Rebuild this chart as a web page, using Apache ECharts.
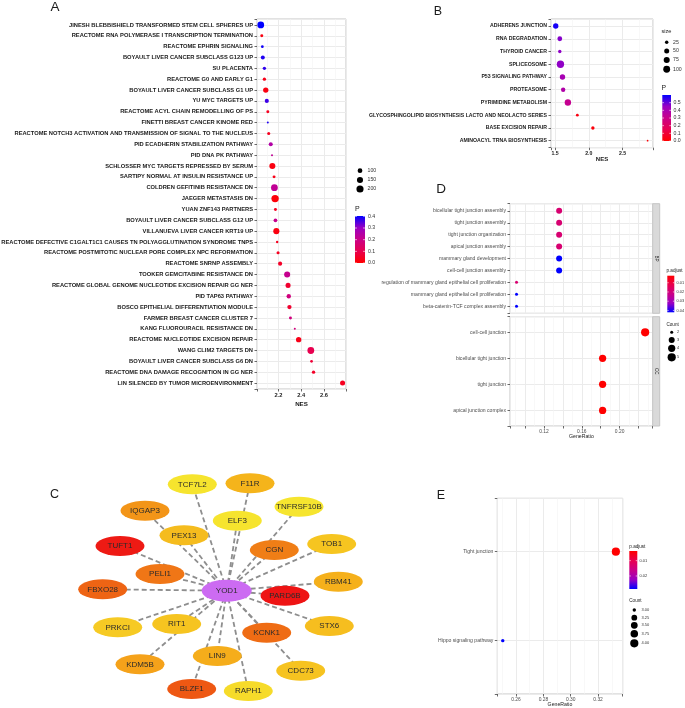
<!DOCTYPE html>
<html><head><meta charset="utf-8">
<script src="https://cdn.jsdelivr.net/npm/echarts@6/dist/echarts.min.js"></script>
<style>html,body{margin:0;padding:0;background:#fff}#c{width:685px;height:708px}</style>
</head><body><div id="c"></div>
<script>
// ---------------- Panel A data ----------------
const aTerms = [
'JINESH BLEBBISHIELD TRANSFORMED STEM CELL SPHERES UP',
'REACTOME RNA POLYMERASE I TRANSCRIPTION TERMINATION',
'REACTOME EPHRIN SIGNALING',
'BOYAULT LIVER CANCER SUBCLASS G123 UP',
'SU PLACENTA',
'REACTOME G0 AND EARLY G1',
'BOYAULT LIVER CANCER SUBCLASS G1 UP',
'YU MYC TARGETS UP',
'REACTOME ACYL CHAIN REMODELLING OF PS',
'FINETTI BREAST CANCER KINOME RED',
'REACTOME NOTCH3 ACTIVATION AND TRANSMISSION OF SIGNAL TO THE NUCLEUS',
'PID ECADHERIN STABILIZATION PATHWAY',
'PID DNA PK PATHWAY',
'SCHLOSSER MYC TARGETS REPRESSED BY SERUM',
'SARTIPY NORMAL AT INSULIN RESISTANCE UP',
'COLDREN GEFITINIB RESISTANCE DN',
'JAEGER METASTASIS DN',
'YUAN ZNF143 PARTNERS',
'BOYAULT LIVER CANCER SUBCLASS G12 UP',
'VILLANUEVA LIVER CANCER KRT19 UP',
'REACTOME DEFECTIVE C1GALT1C1 CAUSES TN POLYAGGLUTINATION SYNDROME TNPS',
'REACTOME POSTMITOTIC NUCLEAR PORE COMPLEX NPC REFORMATION',
'REACTOME SNRNP ASSEMBLY',
'TOOKER GEMCITABINE RESISTANCE DN',
'REACTOME GLOBAL GENOME NUCLEOTIDE EXCISION REPAIR GG NER',
'PID TAP63 PATHWAY',
'BOSCO EPITHELIAL DIFFERENTIATION MODULE',
'FARMER BREAST CANCER CLUSTER 7',
'KANG FLUOROURACIL RESISTANCE DN',
'REACTOME NUCLEOTIDE EXCISION REPAIR',
'WANG CLIM2 TARGETS DN',
'BOYAULT LIVER CANCER SUBCLASS G6 DN',
'REACTOME DNA DAMAGE RECOGNITION IN GG NER',
'LIN SILENCED BY TUMOR MICROENVIRONMENT'];
const aNES  = [2.045,2.054,2.059,2.063,2.077,2.077,2.089,2.098,2.107,2.107,2.115,2.133,2.144,2.147,2.162,2.165,2.171,2.174,2.174,2.182,2.189,2.197,2.215,2.277,2.285,2.291,2.297,2.306,2.344,2.378,2.485,2.491,2.509,2.764];
const aSize = [180,65,63,82,69,69,119,84,65,60,66,82,60,147,65,182,212,65,76,150,61,66,84,147,109,90,88,65,60,120,182,63,70,110];
const aP    = [0.40,0.02,0.39,0.38,0.37,0.03,0.02,0.36,0.04,0.38,0.04,0.25,0.22,0.02,0.03,0.22,0.01,0.04,0.21,0.02,0.04,0.04,0.05,0.21,0.06,0.18,0.06,0.18,0.18,0.03,0.10,0.07,0.05,0.04];
const aSizeBreaks = [100,150,200];
const aPBreaks = [0.0,0.1,0.2,0.3,0.4];

// ---------------- Panel B data ----------------
const bTerms = ['ADHERENS JUNCTION','RNA DEGRADATION','THYROID CANCER','SPLICEOSOME','P53 SIGNALING PATHWAY','PROTEASOME','PYRIMIDINE METABOLISM','GLYCOSPHINGOLIPID BIOSYNTHESIS LACTO AND NEOLACTO SERIES','BASE EXCISION REPAIR','AMINOACYL TRNA BIOSYNTHESIS'];
const bNES  = [1.51,1.57,1.57,1.58,1.61,1.62,1.69,1.83,2.06,2.87];
const bSize = [58,45,24,116,58,38,84,19,24,15];
const bP    = [0.58,0.47,0.46,0.46,0.41,0.38,0.32,0.03,0.02,0.01];
const bSizeBreaks = [25,50,75,100];
const bPBreaks = [0.0,0.1,0.2,0.3,0.4,0.5];

// ---------------- Panel D data ----------------
const dBPTerms = ['bicellular tight junction assembly','tight junction assembly','tight junction organization','apical junction assembly','mammary gland development','cell-cell junction assembly','regulation of mammary gland epithelial cell proliferation','mammary gland epithelial cell proliferation','beta-catenin-TCF complex assembly'];
const dBPRatio = [0.136,0.136,0.136,0.136,0.136,0.136,0.0909,0.0909,0.0909];
const dBPCount = [3,3,3,3,3,3,2,2,2];
const dBPPadj  = [0.018,0.018,0.018,0.018,0.042,0.042,0.018,0.042,0.042];
const dCCTerms = ['cell-cell junction','bicellular tight junction','tight junction','apical junction complex'];
const dCCRatio = [0.227,0.182,0.182,0.182];
const dCCCount = [5,4,4,4];
const dCCPadj  = [0.0024,0.0024,0.0024,0.0024];
const dCountBreaks = [2,3,4,5];
const dPadjBreaks = [0.01,0.02,0.03,0.04];

// ---------------- Panel E data ----------------
const eTerms = ['Tight junction','Hippo signaling pathway'];
const eRatio = [0.333,0.2503];
const eCount = [4,3];
const ePadj  = [0.0037,0.0285];
const eCountBreaks = [3.00,3.25,3.50,3.75,4.00];
const ePadjBreaks = [0.01,0.02];

// ---------------- Panel C network ----------------
const hubGene = 'YOD1';
const genes = ['TCF7L2','F11R','IQGAP3','ELF3','TNFRSF10B','PEX13','TUFT1','CGN','TOB1','PELI1','FBXO28','RBM41','PARD6B','PRKCI','RIT1','STX6','KCNK1','LIN9','KDM5B','CDC73','BLZF1','RAPH1'];
// node layout (network drawing coordinates)
const layoutX = {YOD1:226.7,TCF7L2:192.3,F11R:250,IQGAP3:145,ELF3:237.3,TNFRSF10B:299,PEX13:184,TUFT1:120,CGN:274.3,TOB1:331.7,PELI1:160,FBXO28:102.7,RBM41:338.3,PARD6B:285,PRKCI:117.7,RIT1:176.7,STX6:329.3,KCNK1:266.7,LIN9:217.3,KDM5B:140,CDC73:300.7,BLZF1:191.7,RAPH1:248.3};
const layoutY = {YOD1:120.7,TCF7L2:14.3,F11R:13.3,IQGAP3:40.7,ELF3:50.7,TNFRSF10B:36.7,PEX13:65.3,TUFT1:76,CGN:80,TOB1:74,PELI1:104,FBXO28:119.3,RBM41:111.7,PARD6B:125.7,PRKCI:157.3,RIT1:154,STX6:156,KCNK1:162.7,LIN9:186,KDM5B:194.3,CDC73:200.7,BLZF1:219,RAPH1:221};
// node fill styles
const nodeColors = {YOD1:'#CC6BF2',TCF7L2:'#F6E42E',F11R:'#F5B41B',IQGAP3:'#F39518',ELF3:'#F6E42E',TNFRSF10B:'#F6E52F',PEX13:'#F5BC1E',TUFT1:'#EE1A14',CGN:'#F07E16',TOB1:'#F6C520',PELI1:'#F07616',FBXO28:'#EE6414',RBM41:'#F5B01B',PARD6B:'#EE1414',PRKCI:'#F6CA24',RIT1:'#F6C420',STX6:'#F6BE1F',KCNK1:'#EF6C14',LIN9:'#F5AD1B',KDM5B:'#F5A21A',CDC73:'#F6C320',BLZF1:'#EE5813',RAPH1:'#F6DB2A'};

// ---------------- styles ----------------
const FONT = '"Liberation Sans", Arial, Helvetica, sans-serif';
const PAL = ['#FF0000','#E8004F','#CA0088','#9A00C2','#0000FF']; // low -> high
const GRIDC = '#EBEBEB', MINORC = '#F4F4F4', BORDER = '#C4C4C4';

function sz(v, s){ const t = Math.max(0, Math.min(1, (v - s.vmin)/(s.vmax - s.vmin))); return s.dmin + (s.dmax - s.dmin)*Math.sqrt(t); }
const SA = {vmin:60, vmax:215, dmin:2.0, dmax:7.4};
const SB = {vmin:15, vmax:118, dmin:1.7, dmax:7.4};
const SD = {vmin:2, vmax:5, dmin:3.0, dmax:8.2};
const SE = {vmin:3, vmax:4, dmin:3.4, dmax:8.2};

function mult(step, digits, lo, hi){
  return v => { const r = v/step; if (Math.abs(r - Math.round(r)) < 1e-6 && v > lo && v < hi) return v.toFixed(digits); return ''; };
}
function xAxisCfg(gi, min, max, split, fmt, lab){
  return {gridIndex:gi, type:'value', position:'bottom', min, max, splitNumber:split,
    axisLine:{show:false, onZero:false}, axisTick:{show:true, length:2.5, lineStyle:{color:'#444', width:0.8}},
    axisLabel:Object.assign({margin:3, fontFamily:FONT, formatter:fmt, showMinLabel:true, showMaxLabel:true}, lab),
    splitLine:{show:true, lineStyle:{color:GRIDC, width:1}},
    minorTick:{show:false, splitNumber:2}, minorSplitLine:{show:true, lineStyle:{color:MINORC, width:0.6}}};
}
function yAxisCfg(gi, names, pad, lab){
  return {gridIndex:gi, type:'value', position:'left', inverse:true, min:-pad, max:names.length - 1 + pad, splitNumber:names.length, minInterval:1,
    axisLine:{show:false, onZero:false}, axisTick:{show:true, length:2.5, lineStyle:{color:'#444', width:0.8}},
    axisLabel:Object.assign({margin:4, fontFamily:FONT, formatter: v => (Number.isInteger(v) && names[v] !== undefined) ? names[v] : ''}, lab),
    splitLine:{show:true, lineStyle:{color:GRIDC, width:1}}};
}
const boldLab = s => ({fontSize:s, fontWeight:'bold', color:'#1a1a1a'});
const normLab = s => ({fontSize:s, fontWeight:'normal', color:'#4d4d4d'});

const gridBase = {show:true, containLabel:false, outerBoundsMode:'none', borderColor:BORDER, borderWidth:1, backgroundColor:'#fff'};
const grids = [
  Object.assign({}, gridBase, {left:257, top:19, width:89, height:370}),
  Object.assign({}, gridBase, {left:551, top:19, width:102, height:128.7}),
  Object.assign({}, gridBase, {left:510, top:203.7, width:142.7, height:109.6}),
  Object.assign({}, gridBase, {left:510, top:316.7, width:142.7, height:109.3}),
  Object.assign({}, gridBase, {left:497.3, top:498.3, width:125.4, height:195.7}),
  {show:false, containLabel:false, outerBoundsMode:'none', left:0, top:470, width:360, height:238}
];

const xAxes = [
  xAxisCfg(0, 2.012, 2.794, 4, mult(0.2,1,2.05,2.75), boldLab(5.7)),
  xAxisCfg(1, 1.44, 2.95, 3, mult(0.5,1,1.45,2.9), boldLab(5.2)),
  Object.assign(xAxisCfg(2, 0.084, 0.235, 7, ()=>'', normLab(4.9)), {axisTick:{show:false}}),
  xAxisCfg(3, 0.084, 0.235, 7, mult(0.04,2,0.09,0.23), normLab(4.9)),
  xAxisCfg(4, 0.2463, 0.338, 5, mult(0.02,2,0.25,0.335), normLab(4.9)),
  {gridIndex:5, type:'value', min:0, max:360, show:false, axisLine:{onZero:false}}
];
const yAxes = [
  yAxisCfg(0, aTerms, 0.55, boldLab(5.75)),
  yAxisCfg(1, bTerms, 0.55, boldLab(5.2)),
  yAxisCfg(2, dBPTerms, 0.6, normLab(5.1)),
  yAxisCfg(3, dCCTerms, 0.6, normLab(5.1)),
  yAxisCfg(4, eTerms, 0.6, normLab(5.1)),
  {gridIndex:5, type:'value', min:0, max:238, inverse:true, show:false, axisLine:{onZero:false}}
];

function scatter(idx, xs, ys, ss, ps, scale){
  return {type:'scatter', xAxisIndex:idx, yAxisIndex:idx, silent:true, z:3,
    data: xs.map((x,i)=>[x, i, ss[i], ps[i]]),
    symbolSize: v => sz(v[2], scale), itemStyle:{opacity:1}};
}
const ELLIPSE = 'path://M0,50 A50,50 0 1,1 100,50 A50,50 0 1,1 0,50 Z';
const allNodes = [hubGene].concat(genes);
const series = [
  scatter(0, aNES, aTerms, aSize, aP, SA),
  scatter(1, bNES, bTerms, bSize, bP, SB),
  scatter(2, dBPRatio, dBPTerms, dBPCount, dBPPadj, SD),
  scatter(3, dCCRatio, dCCTerms, dCCCount, dCCPadj, SD),
  scatter(4, eRatio, eTerms, eCount, ePadj, SE),
  {type:'graph', coordinateSystem:'cartesian2d', xAxisIndex:5, yAxisIndex:5, layout:'none', silent:true,
   symbol:ELLIPSE,
   data: allNodes.map(g => ({name:g, value:[layoutX[g], layoutY[g]], symbol:ELLIPSE,
       symbolSize: g === hubGene ? [50,22] : [49,20], itemStyle:{color:nodeColors[g], borderWidth:0}})),
   links: genes.map(g => ({source:hubGene, target:g})),
   edgeSymbol:['none','none'],
   lineStyle:{color:'#8e8e8e', width:1.8, type:[5,3], opacity:1, curveness:0},
   label:{show:true, position:'inside', fontSize:8, color:'#2b2b2b', fontFamily:FONT},
   emphasis:{disabled:true}}
];

const visualMaps = [
  {show:false, type:'continuous', seriesIndex:0, dimension:3, min:0, max:0.40, inRange:{color:PAL}},
  {show:false, type:'continuous', seriesIndex:1, dimension:3, min:0, max:0.60, inRange:{color:PAL}},
  {show:false, type:'continuous', seriesIndex:[2,3], dimension:3, min:0.0024, max:0.042, inRange:{color:PAL}},
  {show:false, type:'continuous', seriesIndex:4, dimension:3, min:0.0037, max:0.0285, inRange:{color:PAL}}
];

// ---------------- graphics (titles, legends, strips) ----------------
const G = [];
function txt(x, y, s, size, o){
  o = o || {};
  G.push({type:'text', x, y, silent:true, rotation:o.rot||0, z:10,
    style:{text:s, fontSize:size, fontFamily:o.family||FONT, fontWeight:o.bold?'bold':'normal', fill:o.color||'#1a1a1a',
      align:o.align||'left', verticalAlign:o.va||'middle', textAlign:o.align||'left', textVerticalAlign:o.va||'middle'}});
}
function colorbar(o){
  const stops = PAL.map((c,i)=>({offset: o.topIsMax ? 1 - i/4 : i/4, color:c})).sort((a,b)=>a.offset-b.offset);
  G.push({type:'rect', silent:true, z:10, shape:{x:o.x, y:o.y, width:o.w, height:o.h},
    style:{fill:new echarts.graphic.LinearGradient(0,0,0,1,stops)}});
  o.ticks.forEach(t => {
    const f = (t - o.min)/(o.max - o.min);
    const yy = o.topIsMax ? o.y + o.h*(1-f) : o.y + o.h*f;
    const tl = o.w*0.2;
    G.push({type:'line', silent:true, z:11, shape:{x1:o.x, y1:yy, x2:o.x+tl, y2:yy}, style:{stroke:'#fff', lineWidth:0.6}});
    G.push({type:'line', silent:true, z:11, shape:{x1:o.x+o.w-tl, y1:yy, x2:o.x+o.w, y2:yy}, style:{stroke:'#fff', lineWidth:0.6}});
    txt(o.x + o.w + o.gap, yy, o.fmt(t), o.fs, {color:'#333'});
  });
}
function sizeLegend(o){
  o.breaks.forEach((b,i) => {
    G.push({type:'circle', silent:true, z:10, shape:{cx:o.x, cy:o.ys[i], r:sz(b, o.scale)/2}, style:{fill:'#000'}});
    txt(o.lx, o.ys[i], o.fmt(b), o.fs, {color:'#333'});
  });
}

// panel letters
txt(55, 7.5, 'A', 13.5, {align:'center'});
txt(438, 11.5, 'B', 12.5, {align:'center'});
txt(54.5, 495, 'C', 12.5, {align:'center'});
txt(441, 189.5, 'D', 13.5, {align:'center'});
txt(441, 495.3, 'E', 12.5, {align:'center'});

// axis titles
txt(301.5, 404, 'NES', 6.2, {align:'center', bold:true});
txt(602, 159, 'NES', 6, {align:'center', bold:true});
txt(581.4, 437, 'GeneRatio', 5.2, {align:'center'});
txt(560, 704.3, 'GeneRatio', 5.2, {align:'center'});

// Panel A legends
sizeLegend({breaks:aSizeBreaks, scale:SA, x:360, ys:[170.7,180,189], lx:367.5, fs:5.2, fmt:v=>String(v)});
txt(355, 209, 'P', 7);
colorbar({x:355, y:216, w:10, h:47, min:0, max:0.403, ticks:aPBreaks, topIsMax:true, gap:3, fs:5.2, fmt:v=>v.toFixed(1)});

// Panel B legends
txt(661.5, 31.7, 'size', 5.6);
sizeLegend({breaks:bSizeBreaks, scale:SB, x:666.7, ys:[42.3,51,60,69.3], lx:673, fs:5.2, fmt:v=>String(v)});
txt(661.5, 88.3, 'P', 6.8);
colorbar({x:662.3, y:95, w:8.7, h:46, min:0, max:0.6, ticks:bPBreaks, topIsMax:true, gap:2.5, fs:5.2, fmt:v=>v.toFixed(1)});

// Panel D strips
G.push({type:'rect', silent:true, z:10, shape:{x:652.7, y:203.7, width:7, height:109.6}, style:{fill:'#D9D9D9', stroke:BORDER, lineWidth:1}});
G.push({type:'rect', silent:true, z:10, shape:{x:652.7, y:316.7, width:7, height:109.3}, style:{fill:'#D9D9D9', stroke:BORDER, lineWidth:1}});
txt(656.2, 258.5, 'BP', 4.6, {align:'center', rot:-Math.PI/2, color:'#1a1a1a'});
txt(656.2, 371.3, 'CC', 4.6, {align:'center', rot:-Math.PI/2, color:'#1a1a1a'});

// Panel D legends
txt(666.5, 270.5, 'p.adjust', 4.6);
colorbar({x:667.3, y:275.7, w:7, h:36.6, min:0.0024, max:0.042, ticks:dPadjBreaks, topIsMax:false, gap:2.2, fs:3.9, fmt:v=>v.toFixed(2)});
txt(666.5, 324.3, 'Count', 4.6);
sizeLegend({breaks:dCountBreaks, scale:SD, x:671.7, ys:[332.3,340,348.3,357.3], lx:677, fs:3.9, fmt:v=>String(v)});

// Panel E legends
txt(629.3, 546.5, 'p.adjust', 4.6);
colorbar({x:629.3, y:551, w:8, h:38, min:0.0037, max:0.0285, ticks:ePadjBreaks, topIsMax:false, gap:2.2, fs:4, fmt:v=>v.toFixed(2)});
txt(629.3, 601, 'Count', 4.6);
sizeLegend({breaks:eCountBreaks, scale:SE, x:634.3, ys:[610,617.7,625.3,633.7,643.3], lx:641.5, fs:4, fmt:v=>v.toFixed(2)});

const chart = echarts.init(document.getElementById('c'), null, {renderer:'canvas', width:685, height:708});
chart.setOption({
  animation:false,
  backgroundColor:'#ffffff',
  grid:grids, xAxis:xAxes, yAxis:yAxes,
  visualMap:visualMaps,
  series:series,
  graphic:{elements:G}
});
</script>
</body></html>
